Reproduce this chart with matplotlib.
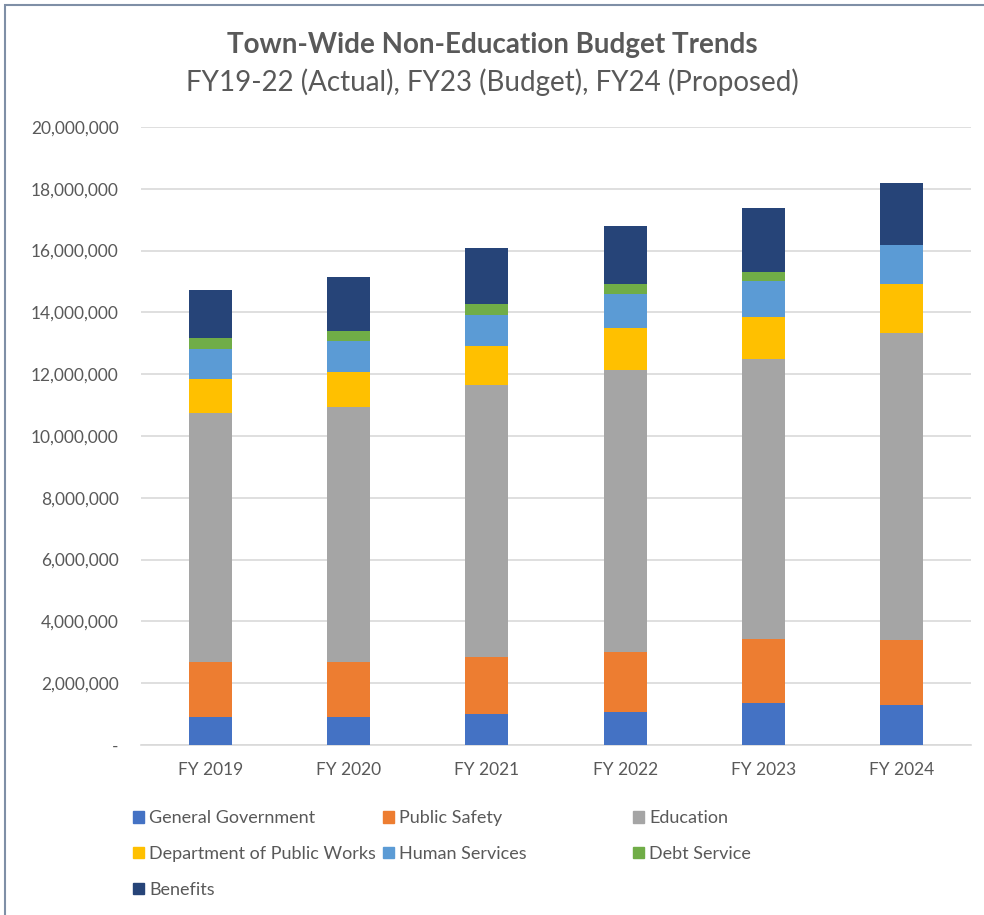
import numpy as np
import matplotlib
matplotlib.use("Agg")
from matplotlib import pyplot as plt
from matplotlib.patches import Rectangle, Patch
from matplotlib.ticker import FuncFormatter

plt.rcParams['font.family'] = ['Lato', 'DejaVu Sans']

years = ['FY 2019', 'FY 2020', 'FY 2021', 'FY 2022', 'FY 2023', 'FY 2024']
series_names = ['General Government', 'Public Safety', 'Education',
                'Department of Public Works', 'Human Services',
                'Debt Service', 'Benefits']
# values in millions of dollars
general_government = [0.91, 0.91, 0.99, 1.06, 1.35, 1.29]
public_safety = [1.77, 1.77, 1.85, 1.96, 2.07, 2.10]
education = [8.05, 8.26, 8.82, 9.11, 9.06, 9.94]
public_works = [1.11, 1.13, 1.24, 1.38, 1.37, 1.58]
human_services = [0.96, 0.99, 1.02, 1.08, 1.17, 1.27]
debt_service = [0.37, 0.34, 0.34, 0.32, 0.30, 0.0]
benefits = [1.57, 1.74, 1.81, 1.87, 2.05, 2.00]

colors = ['#4472C4', '#ED7D31', '#A5A5A5', '#FFC000',
          '#5B9BD5', '#70AD47', '#264478']
text_color = '#595959'

fig = plt.figure(figsize=(9.84, 9.15), dpi=100)
ax = fig.add_axes([0.1433, 0.1858, 0.8435, 0.6754])

x = np.arange(len(years))
bottom = np.zeros(len(years))
all_series = [general_government, public_safety, education, public_works,
              human_services, debt_service, benefits]
for vals, name, c in zip(all_series, series_names, colors):
    v = np.array(vals) * 1e6
    ax.bar(x, v, width=0.31, bottom=bottom, color=c, label=name, zorder=3)
    bottom += v

ax.set_xlim(-0.5, 5.5)
ax.set_ylim(0, 20e6)
ax.set_yticks(np.arange(0, 20e6 + 1, 2e6))
ax.yaxis.set_major_formatter(
    FuncFormatter(lambda v, p: '-' if v == 0 else '{:,.0f}'.format(v)))
ax.set_xticks(x)
ax.set_xticklabels(years)
ax.tick_params(length=0, labelsize=12.5, colors=text_color, pad=12)
ax.tick_params(axis='y', pad=16)
ax.grid(axis='y', color='#D9D9D9', linewidth=1.2, zorder=0)
for s in ['top', 'right', 'left']:
    ax.spines[s].set_visible(False)
ax.spines['bottom'].set_color('#D9D9D9')
ax.spines['bottom'].set_linewidth(1.2)

fig.text(0.5, 0.951, 'Town-Wide Non-Education Budget Trends', ha='center',
         va='center', fontsize=20, fontweight='bold', color=text_color)
fig.text(0.5, 0.910, 'FY19-22 (Actual), FY23 (Budget), FY24 (Proposed)',
         ha='center', va='center', fontsize=20, color=text_color)

# legend laid out in rows of three, as in the original
handles = [Patch(color=c, label=n) for c, n in zip(colors, series_names)]
col_x = [0.128, 0.382, 0.636]
for ci in range(3):
    hs = handles[ci::3]
    fig.legend(handles=hs, loc='upper left',
               bbox_to_anchor=(col_x[ci], 0.1225),
               frameon=False, fontsize=13, handlelength=0.6,
               handleheight=0.6, handletextpad=0.3,
               labelspacing=1.1, labelcolor=text_color,
               borderaxespad=0)

# frame around the chart
fig.add_artist(Rectangle((0.005, -0.01), 1.2, 1.004, transform=fig.transFigure,
                         fill=False, edgecolor='#7F8FA6', linewidth=1.5))

fig.savefig('out.png', dpi=100)
